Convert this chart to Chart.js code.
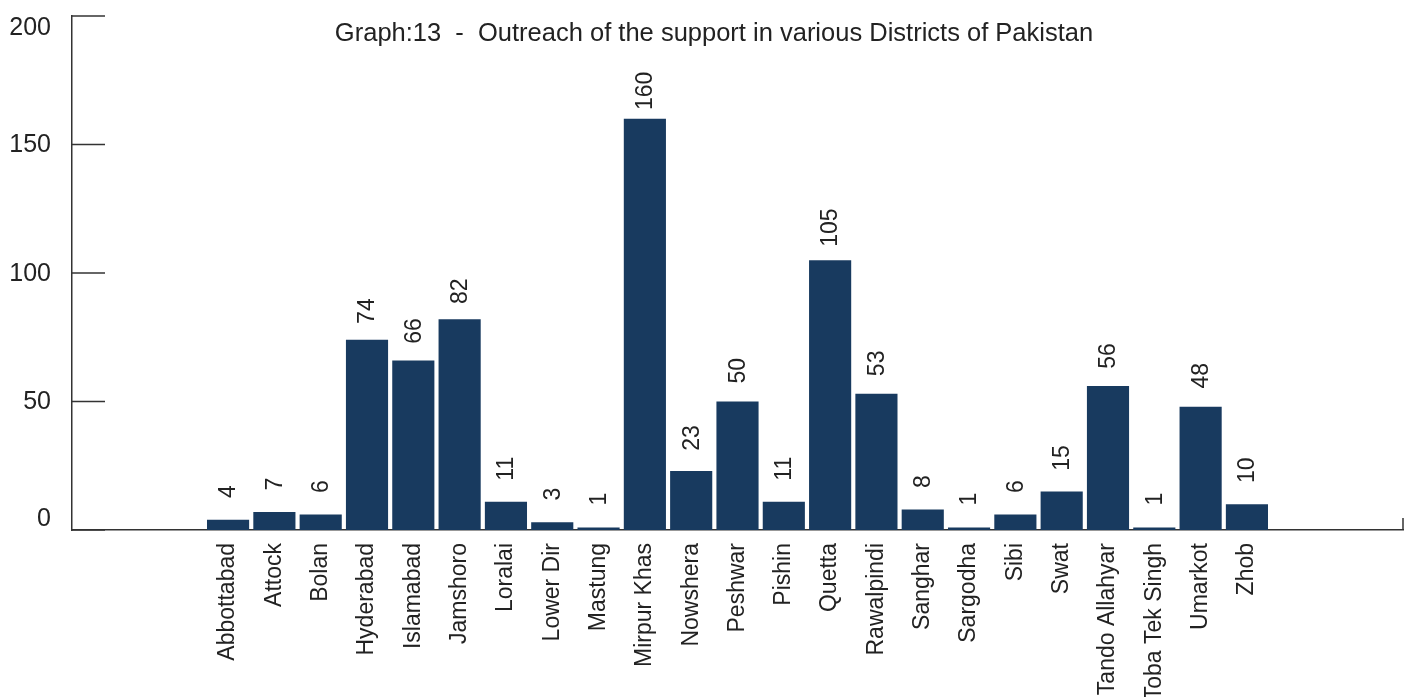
<!DOCTYPE html>
<html>
<head>
<meta charset="utf-8">
<script src="https://cdn.jsdelivr.net/npm/chart.js@4"></script>
<style>
  html, body { margin: 0; padding: 0; background: #fff; }
  #wrap { width: 1413px; height: 697px; }
</style>
</head>
<body>
<div id="wrap"><canvas id="myChart" width="1413" height="697"></canvas></div>
<script>
// =========================
// Dados
// =========================
const distritos = [
  'Abbottabad', 'Attock', 'Bolan', 'Hyderabad', 'Islamabad', 'Jamshoro',
  'Loralai', 'Lower Dir', 'Mastung', 'Mirpur Khas', 'Nowshera', 'Peshwar',
  'Pishin', 'Quetta', 'Rawalpindi', 'Sanghar', 'Sargodha', 'Sibi', 'Swat',
  'Tando Allahyar', 'Toba Tek Singh', 'Umarkot', 'Zhob'
];
const valores = [4, 7, 6, 74, 66, 82, 11, 3, 1, 160, 23, 50, 11, 105, 53, 8, 1, 6, 15, 56, 1, 48, 10];
const ticksY = [0, 50, 100, 150, 200];
const titulo = 'Graph:13  -  Outreach of the support in various Districts of Pakistan';

const corBarra = '#183a5f';
const corTexto = '#222222';
const corEixo = '#333333';
const fonte = '"Liberation Sans", Arial, sans-serif';

// =========================
// Plugin: titulo, marcas do eixo, rotulos dos valores
// =========================
const extras = {
  id: 'extras',
  afterDraw(chart) {
    const ctx = chart.ctx;
    const area = chart.chartArea;
    const y = chart.scales.y;

    ctx.save();
    ctx.strokeStyle = corEixo;
    ctx.lineWidth = 1.5;
    ctx.fillStyle = corTexto;

    // marcas do eixo Y (para dentro) + rotulos
    ctx.font = '25px ' + fonte;
    ctx.textAlign = 'right';
    ticksY.forEach(v => {
      const py = y.getPixelForValue(v);
      ctx.beginPath();
      ctx.moveTo(area.left, py);
      ctx.lineTo(area.left + 33, py);
      ctx.stroke();
      if (v === ticksY[ticksY.length - 1]) {
        ctx.textBaseline = 'top';
        ctx.fillText(String(v), 51, py);
      } else if (v === 0) {
        ctx.textBaseline = 'bottom';
        ctx.fillText(String(v), 51, py + 2);
      } else {
        ctx.textBaseline = 'middle';
        ctx.fillText(String(v), 51, py + 1);
      }
    });

    // marca no fim do eixo X
    ctx.beginPath();
    ctx.moveTo(area.right, area.bottom - 12);
    ctx.lineTo(area.right, area.bottom);
    ctx.stroke();

    // rotulos dos valores (rotacionados)
    ctx.font = '23px ' + fonte;
    ctx.textAlign = 'left';
    ctx.textBaseline = 'middle';
    const meta = chart.getDatasetMeta(0);
    meta.data.forEach((bar, i) => {
      const altura = bar.base - bar.y;
      const offset = 22 - altura * 0.032;
      ctx.save();
      ctx.translate(bar.x + 1, bar.y - offset);
      ctx.rotate(-Math.PI / 2);
      ctx.fillText(String(valores[i]), 0, 0);
      ctx.restore();
    });

    // titulo
    ctx.font = '25.5px ' + fonte;
    ctx.textAlign = 'center';
    ctx.textBaseline = 'middle';
    ctx.fillText(titulo, 714, 34);

    ctx.restore();
  }
};

// =========================
// Grafico
// =========================
const ctx = document.getElementById('myChart').getContext('2d');

new Chart(ctx, {
  type: 'bar',
  data: {
    datasets: [{
      data: distritos.map((d, i) => ({ x: i, y: valores[i] })),
      backgroundColor: corBarra,
      barPercentage: 0.91,
      categoryPercentage: 1
    }]
  },
  options: {
    responsive: false,
    animation: false,
    layout: { padding: { top: 16, right: 10, left: 0, bottom: 0 } },
    plugins: {
      legend: { display: false },
      tooltip: { enabled: false }
    },
    scales: {
      x: {
        type: 'linear',
        offset: false,
        min: -3.37,
        max: distritos.length - 1 + 3.37,
        afterBuildTicks: axis => {
          axis.ticks = distritos.map((d, i) => ({ value: i }));
        },
        afterFit: axis => { axis.height = 167; },
        grid: { display: false },
        border: { display: true, color: corEixo, width: 1.5 },
        ticks: {
          autoSkip: false,
          minRotation: 90,
          maxRotation: 90,
          padding: 5,
          color: corTexto,
          font: { family: fonte, size: 23 },
          callback: v => distritos[v] ?? ''
        }
      },
      y: {
        min: 0,
        max: 200,
        afterFit: axis => { axis.width = 72; },
        grid: { display: false, drawTicks: false },
        border: { display: true, color: corEixo, width: 1.5 },
        ticks: { display: false, stepSize: 50 }
      }
    }
  },
  plugins: [extras]
});
</script>
</body>
</html>
